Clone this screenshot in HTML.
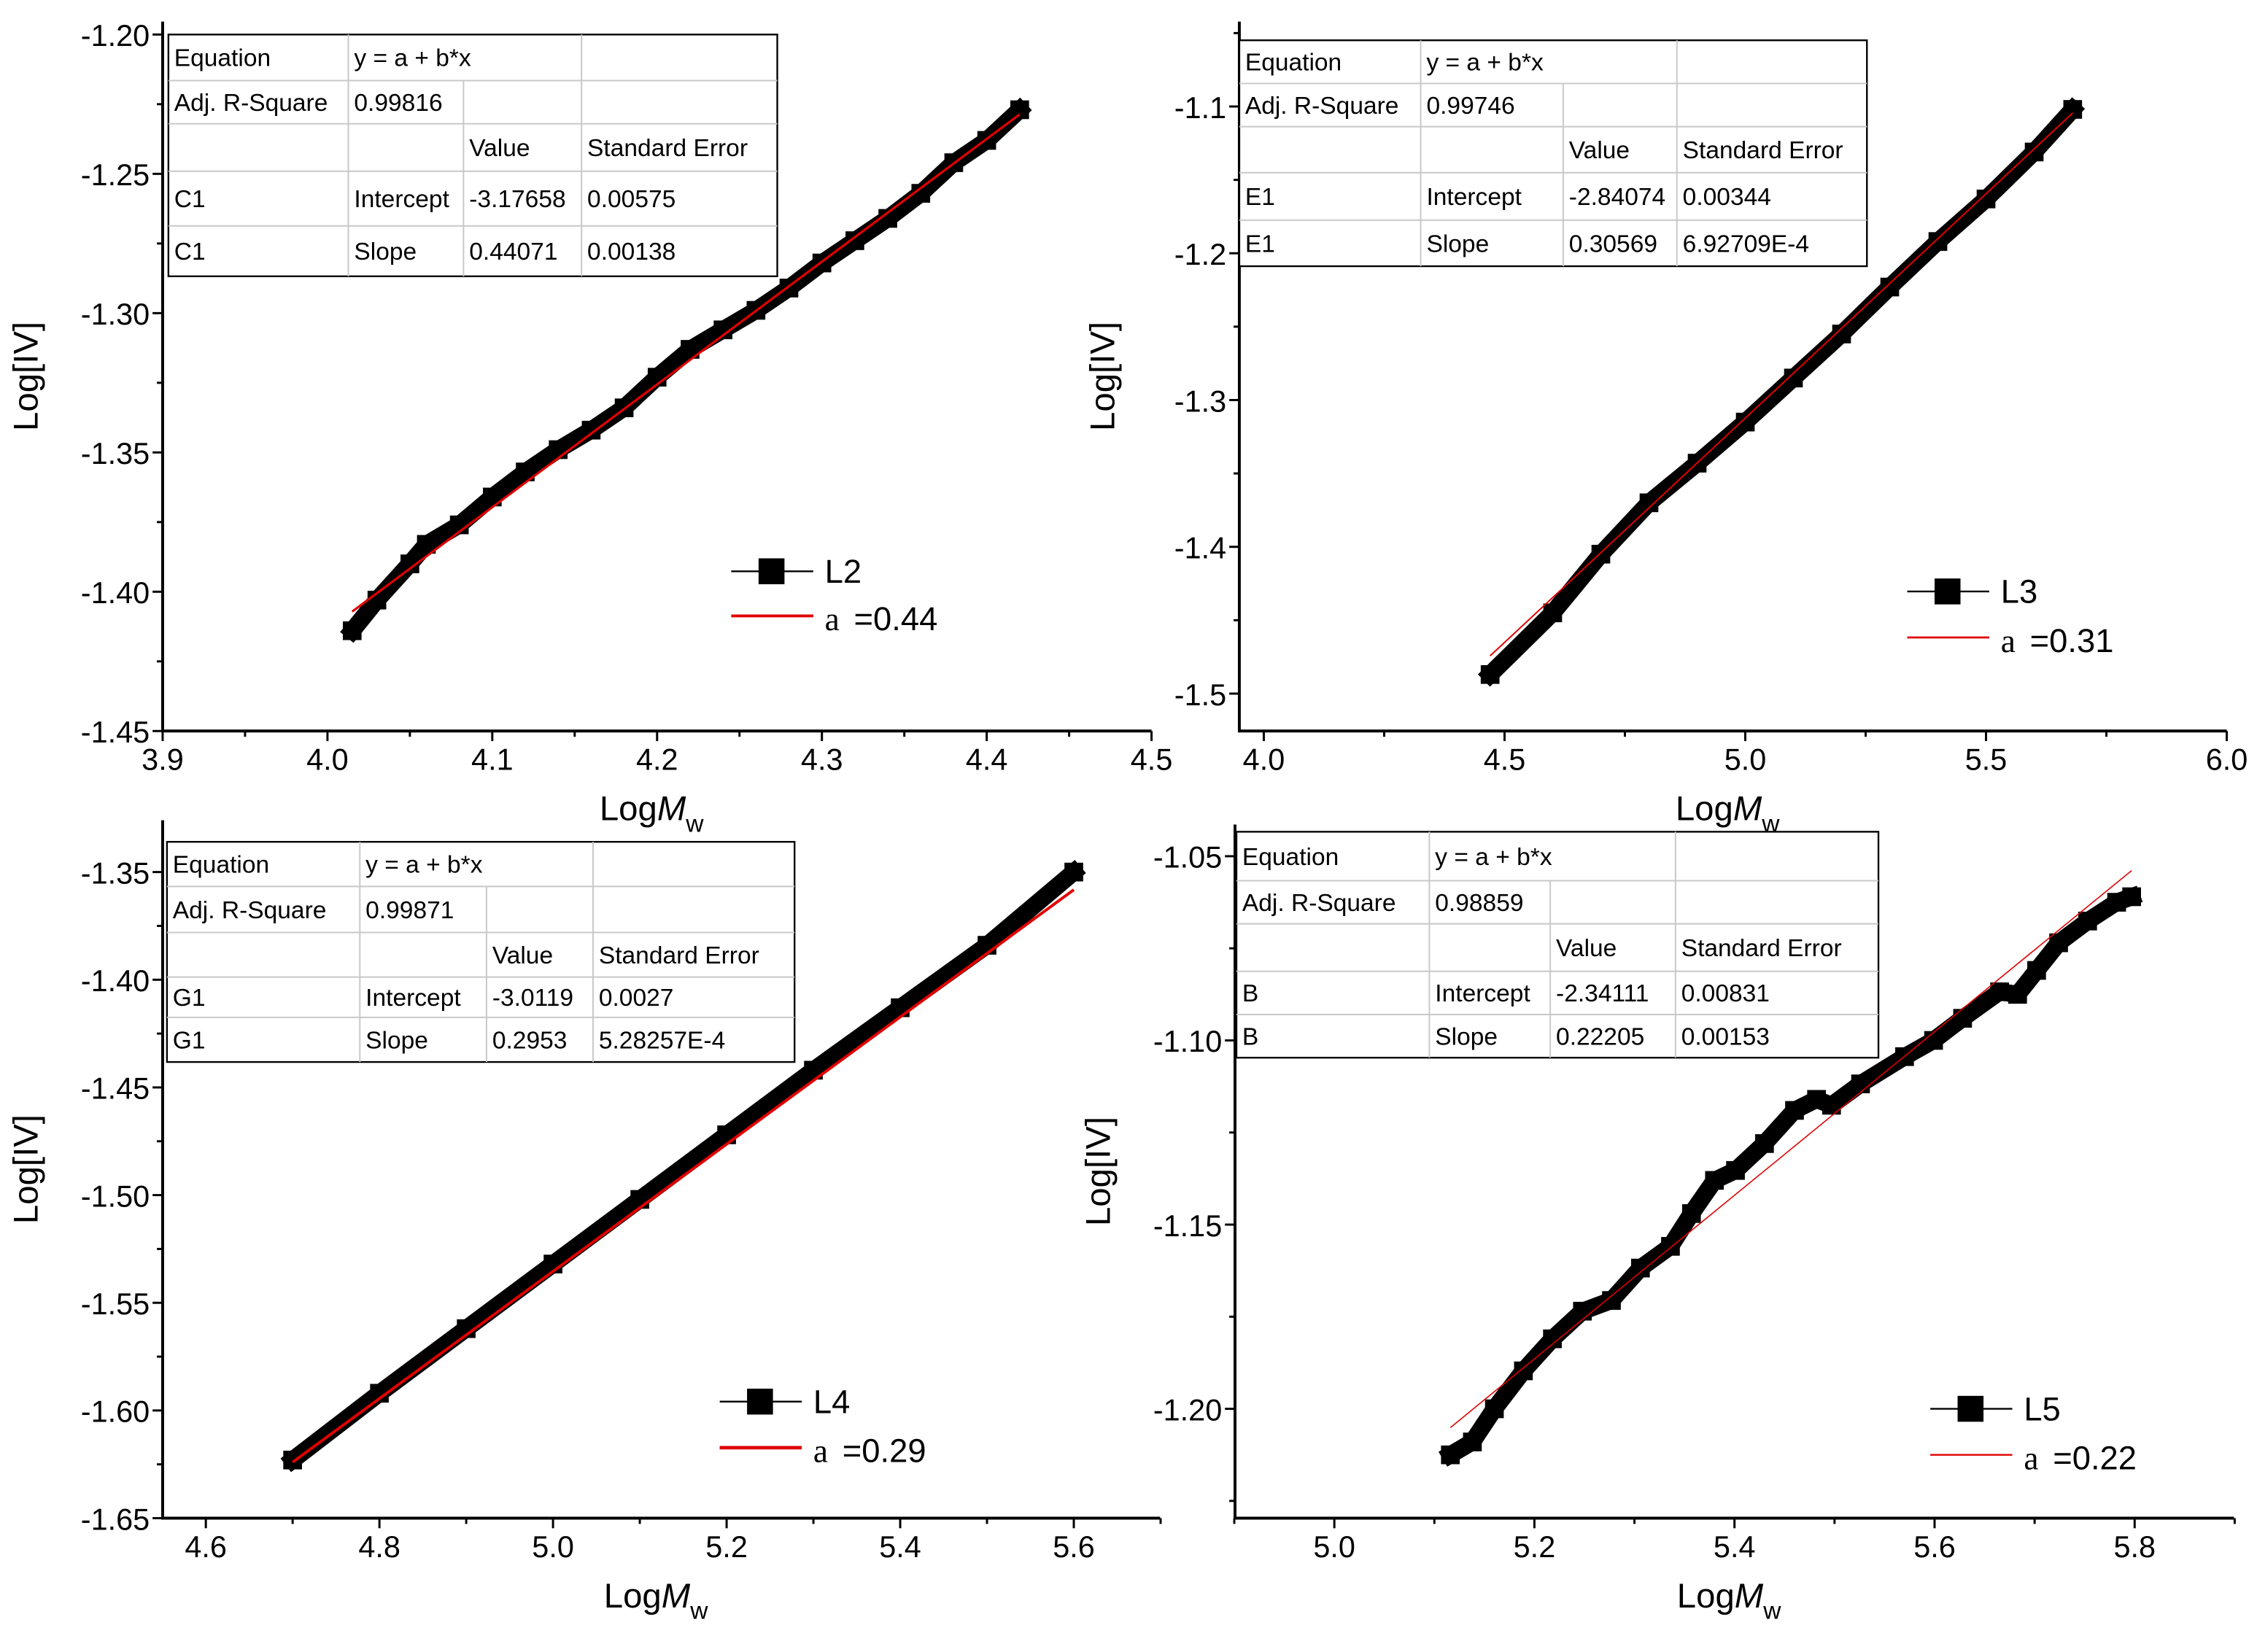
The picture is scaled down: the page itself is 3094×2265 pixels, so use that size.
<!DOCTYPE html>
<html><head><meta charset="utf-8"><style>
html,body{margin:0;padding:0;background:#fff}
svg{display:block}
text{font-family:"Liberation Sans",Arial,sans-serif;fill:#000}
</style></head><body>
<svg id="chart" width="3094" height="2265" viewBox="0 0 1568 1148" preserveAspectRatio="none" xmlns="http://www.w3.org/2000/svg"></svg>
<script>
// ---- data ----
const l2X = [4.015,4.03,4.05,4.06,4.08,4.10,4.12,4.14,4.16,4.18,4.20,4.22,4.24,4.26,4.28,4.30,4.32,4.34,4.36,4.38,4.40,4.42];
const l2Y = [-1.414,-1.403,-1.390,-1.383,-1.376,-1.366,-1.357,-1.349,-1.342,-1.334,-1.323,-1.313,-1.306,-1.299,-1.291,-1.282,-1.274,-1.266,-1.257,-1.246,-1.238,-1.227];
const l3X = [4.47,4.60,4.70,4.80,4.90,5.00,5.10,5.20,5.30,5.40,5.50,5.60,5.68];
const l3Y = [-1.487,-1.445,-1.405,-1.370,-1.343,-1.315,-1.285,-1.255,-1.223,-1.192,-1.163,-1.131,-1.102];
const l4X = [4.70,4.80,4.90,5.00,5.10,5.20,5.30,5.40,5.50,5.60];
const l4Y = [-1.623,-1.592,-1.562,-1.532,-1.502,-1.472,-1.442,-1.413,-1.384,-1.350];
const l5X = [5.116,5.138,5.16,5.189,5.218,5.248,5.277,5.306,5.336,5.357,5.38,5.401,5.43,5.46,5.482,5.497,5.526,5.57,5.599,5.628,5.665,5.683,5.702,5.724,5.753,5.782,5.797];
const l5Y = [-1.2125,-1.209,-1.2,-1.1897,-1.181,-1.1735,-1.1706,-1.1618,-1.1559,-1.147,-1.138,-1.1353,-1.128,-1.119,-1.116,-1.1176,-1.1118,-1.1044,-1.1,-1.094,-1.0868,-1.0875,-1.081,-1.0735,-1.0676,-1.0625,-1.061];
const fitA = [-3.17658,-2.84074,-3.0119,-2.34111];
const fitB = [0.44071,0.30569,0.2953,0.22205];
const seriesNames = ["L2","L3","L4","L5"];
const alphaLabels = ["=0.44","=0.31","=0.29","=0.22"];
const tableIds = ["C1","E1","G1","B"];
const tableR2 = ["0.99816","0.99746","0.99871","0.98859"];
const tableIntercept = ["-3.17658","-2.84074","-3.0119","-2.34111"];
const tableInterceptErr = ["0.00575","0.00344","0.0027","0.00831"];
const tableSlope = ["0.44071","0.30569","0.2953","0.22205"];
const tableSlopeErr = ["0.00138","6.92709E-4","5.28257E-4","0.00153"];
const xTicks1 = [3.9,4.0,4.1,4.2,4.3,4.4,4.5];
const yTicks1 = [-1.20,-1.25,-1.30,-1.35,-1.40,-1.45];
const xTicks2 = [4.0,4.5,5.0,5.5,6.0];
const yTicks2 = [-1.1,-1.2,-1.3,-1.4,-1.5];
const xTicks3 = [4.6,4.8,5.0,5.2,5.4,5.6];
const yTicks3 = [-1.35,-1.40,-1.45,-1.50,-1.55,-1.60,-1.65];
const xTicks4 = [5.0,5.2,5.4,5.6,5.8];
const yTicks4 = [-1.05,-1.10,-1.15,-1.20];

const NS="http://www.w3.org/2000/svg";
const svg=document.getElementById('chart');
function mk(tag,attrs,parent){const e=document.createElementNS(NS,tag);for(const k in attrs)e.setAttribute(k,attrs[k]);(parent||svg).appendChild(e);return e;}

const panels=[
 {xs:l2X,ys:l2Y,xTicks:xTicks1,yTicks:yTicks1,xdec:1,ydec:2,
  left:113,right:800,bottom:508,top:15,x0:3.9,x1:4.5,px0:113,px1:800,y0:-1.45,y1:-1.20,py0:508,py1:24,xminor:2,yminor:2,
  tbl:{cols:[117,242,322,404,540],rows:[24,56,86,119,157,192]},leg:{x:508,y:397,y2:428},fitW:1.6},
 {xs:l3X,ys:l3Y,xTicks:xTicks2,yTicks:yTicks2,xdec:1,ydec:1,
  left:861,right:1547,bottom:508,top:15,x0:4.0,x1:6.0,px0:878,px1:1547,y0:-1.5,y1:-1.1,py0:482,py1:74,xminor:2,yminor:2,
  tbl:{cols:[861,987,1086,1165,1297],rows:[28,58,88,120,153,185]},leg:{x:1325,y:411,y2:443},fitW:1},
 {xs:l4X,ys:l4Y,xTicks:xTicks3,yTicks:yTicks3,xdec:1,ydec:2,
  left:113,right:806,bottom:1055,top:570,x0:4.6,x1:5.6,px0:143,px1:746,y0:-1.65,y1:-1.35,py0:1055,py1:606,xminor:2,yminor:2,
  tbl:{cols:[116,250,338,412,552],rows:[585,616,648,679,707,738]},leg:{x:500,y:974,y2:1006},fitW:2},
 {xs:l5X,ys:l5Y,xTicks:xTicks4,yTicks:yTicks4,xdec:1,ydec:2,
  left:858,right:1552,bottom:1055,top:573,x0:5.0,x1:5.8,px0:927,px1:1483,y0:-1.20,y1:-1.05,py0:979,py1:595,xminor:2,yminor:2,
  tbl:{cols:[859,993,1077,1164,1305],rows:[578,612,642,675,705,735]},leg:{x:1341,y:979,y2:1011},fitW:0.8}
];

panels.forEach((p,i)=>{
  const g=mk('g',{});
  
  
  const sx=v=>p.px0+(v-p.x0)/(p.x1-p.x0)*(p.px1-p.px0);
  const sy=v=>p.py0+(v-p.y0)/(p.y1-p.y0)*(p.py1-p.py0);
  const ax=mk('path',{d:`M${p.left},${p.top}V${p.bottom}H${p.right}`,fill:'none',stroke:'#000','stroke-width':2},g);
  
  
  const xstep=p.xTicks[1]-p.xTicks[0];
  for(let v=p.x0-xstep;v<=p.x1+xstep;v+=xstep/p.xminor){
    const x=sx(v); if(x<p.left-0.5||x>p.right+0.5)continue;
    const major=p.xTicks.some(t=>Math.abs(t-v)<1e-6);
    mk('line',{x1:x,x2:x,y1:p.bottom,y2:p.bottom+(major?7:4),stroke:'#000','stroke-width':1.5},g);
  }
  p.xTicks.forEach(v=>{
    const t=mk('text',{x:sx(v),y:p.bottom+27,'text-anchor':'middle','font-size':21},g);
    t.textContent=v.toFixed(p.xdec);
    
    
  });
  const ystep=p.yTicks[0]-p.yTicks[1];
  for(let v=p.y0-ystep;v<=p.y1+2*ystep;v+=ystep/p.yminor){
    const y=sy(v); if(y>p.bottom+0.5||y<p.top)continue;
    const major=p.yTicks.some(t=>Math.abs(t-v)<1e-6);
    mk('line',{x1:p.left,x2:p.left-(major?7:4),y1:y,y2:y,stroke:'#000','stroke-width':1.5},g);
  }
  p.yTicks.forEach(v=>{
    const t=mk('text',{x:p.left-9,y:sy(v)+8,'text-anchor':'end','font-size':21},g);
    t.textContent=v.toFixed(p.ydec);
    
    
  });
  const yt=mk('text',{x:0,y:0,'text-anchor':'middle','font-size':24,transform:`translate(${p.left-87},${(p.top+p.bottom)/2}) rotate(-90)`},g);
  yt.textContent='Log[IV]';
  
  
  const xt=mk('text',{x:(p.left+p.right)/2-40,y:p.bottom+62,'font-size':24},g);
  
  
  xt.innerHTML='Log<tspan font-style="italic">M</tspan><tspan font-size="17" dy="8">w</tspan>';
  let d='';
  p.xs.forEach((v,k)=>{d+=(k?'L':'M')+sx(v).toFixed(1)+','+sy(p.ys[k]).toFixed(1);});
  const ln=mk('path',{d:d,fill:'none',stroke:'#000','stroke-width':12,'stroke-linejoin':'miter','stroke-linecap':'square'},g);
  
  
  p.xs.forEach((v,k)=>{
    const r=mk('rect',{x:sx(v)-6.5,y:sy(p.ys[k])-6.5,width:13,height:13,fill:'#000'},g);
    
    
  });
  const fx0=p.xs[0], fx1=p.xs[p.xs.length-1];
  const fl=mk('line',{x1:sx(fx0),y1:sy(fitA[i]+fitB[i]*fx0),x2:sx(fx1),y2:sy(fitA[i]+fitB[i]*fx1),stroke:'#e00000','stroke-width':p.fitW},g);
  
  
  const tb=p.tbl; const tg=mk('g',{},g);
  
  
  mk('rect',{x:tb.cols[0],y:tb.rows[0],width:tb.cols[4]-tb.cols[0],height:tb.rows[5]-tb.rows[0],fill:'#fff',stroke:'#000','stroke-width':1.2},tg);
  for(let r=1;r<5;r++) mk('line',{x1:tb.cols[0],x2:tb.cols[4],y1:tb.rows[r],y2:tb.rows[r],stroke:'#c8c8c8','stroke-width':1},tg);
  mk('line',{x1:tb.cols[1],x2:tb.cols[1],y1:tb.rows[0],y2:tb.rows[5],stroke:'#c8c8c8','stroke-width':1},tg);
  mk('line',{x1:tb.cols[3],x2:tb.cols[3],y1:tb.rows[0],y2:tb.rows[5],stroke:'#c8c8c8','stroke-width':1},tg);
  mk('line',{x1:tb.cols[2],x2:tb.cols[2],y1:tb.rows[1],y2:tb.rows[5],stroke:'#c8c8c8','stroke-width':1},tg);
  const cells=[
    ['Equation','y = a + b*x','',''],
    ['Adj. R-Square',tableR2[i],'',''],
    ['','','Value','Standard Error'],
    [tableIds[i],'Intercept',tableIntercept[i],tableInterceptErr[i]],
    [tableIds[i],'Slope',tableSlope[i],tableSlopeErr[i]]
  ];
  cells.forEach((row,r)=>row.forEach((c,cc)=>{
    if(!c)return;
    const t=mk('text',{x:tb.cols[cc]+4,y:(tb.rows[r]+tb.rows[r+1])/2+6,'font-size':17},tg);
    t.textContent=c;
  }));
  const L=p.leg;
  mk('line',{x1:L.x,x2:L.x+57,y1:L.y,y2:L.y,stroke:'#000','stroke-width':1.2},g);
  const lm=mk('rect',{x:L.x+19,y:L.y-9,width:18,height:18,fill:'#000'},g);
  
  
  const lt=mk('text',{x:L.x+65,y:L.y+8,'font-size':23},g);
  lt.textContent=seriesNames[i];
  
  
  mk('line',{x1:L.x,x2:L.x+57,y1:L.y2,y2:L.y2,stroke:'#e00000','stroke-width':p.fitW+0.4},g);
  const la=mk('text',{x:L.x+65,y:L.y2+10,'font-size':23},g);
  la.innerHTML='<tspan font-family="Liberation Serif, serif">a</tspan><tspan dx="10">'+alphaLabels[i]+'</tspan>';
  
  
});
</script>
</body></html>
